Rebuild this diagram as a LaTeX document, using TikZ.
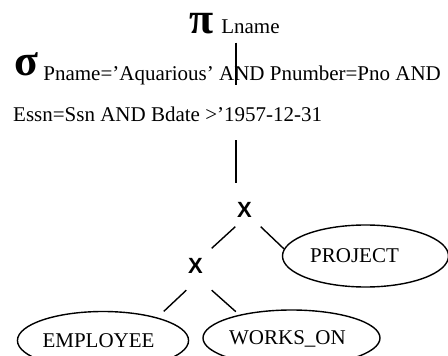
\documentclass[tikz,border=0pt]{standalone}
\usepackage{fontspec}
\setmainfont{Liberation Serif}
\newfontfamily\crossfont{Liberation Sans}
\usetikzlibrary{shapes.geometric}

\begin{document}
\begin{tikzpicture}[
    x=1pt, y=-1pt,
    optext/.style={inner sep=0pt, anchor=base west, font=\fontsize{21}{25}\selectfont},
    cross/.style={inner sep=0pt, minimum width=25pt, minimum height=34pt, font=\crossfont\bfseries\fontsize{22}{22}\selectfont},
    relation/.style={ellipse, draw, line width=1.4pt, inner sep=0pt, text depth=0pt, font=\fontsize{21}{25}\selectfont},
    link/.style={line width=1.4pt}
]
    \useasboundingbox (0,0) rectangle (448,356);
    \coordinate (stem) at (236,0);

    \node[optext] (proj) at (189,33) {{\bfseries\fontsize{44}{44}\selectfont π}\hspace{8pt}Lname};
    \node[optext] (sel) at (14,75) {{\bfseries\fontsize{44}{44}\selectfont σ} \raisebox{-5pt}{Pname=’Aquarious’ AND Pnumber=Pno AND}};
    \node[optext] (cond) at (13,121) {Essn=Ssn AND Bdate >’1957-12-31};

    \node[cross] (x1) at (248,209.5) {X\hspace*{7pt}};
    \node[cross] (x2) at (199,265.5) {X\hspace*{7pt}};

    \node[relation, minimum width=166pt, minimum height=62pt] (project) at (365.5,256) {PROJECT\hspace*{22pt}};
    \node[relation, minimum width=170pt, minimum height=58pt] (employee) at (103,340.5) {EMPLOYEE\hspace*{9pt}};
    \node[relation, minimum width=177pt, minimum height=56pt] (workson) at (291.5,338) {WORKS\_ON\hspace*{8pt}};

    \draw[link, shorten <=9pt] (stem |- proj.south) -- (stem |- sel.south);
    \draw[link, shorten <=19pt, shorten >=9.5pt] (stem |- cond.south) -- (stem |- x1.north);
    \draw[link] (x1.south west) -- (x2.north east);
    \draw[link] (x1.south east) -- (project.175);
    \draw[link, shorten >=8.8pt] ([yshift=-7.5pt]x2.south west) -- (employee.23);
    \draw[link, shorten >=4.6pt] ([yshift=-7.5pt]x2.south east) -- (workson.156);
\end{tikzpicture}
\end{document}
